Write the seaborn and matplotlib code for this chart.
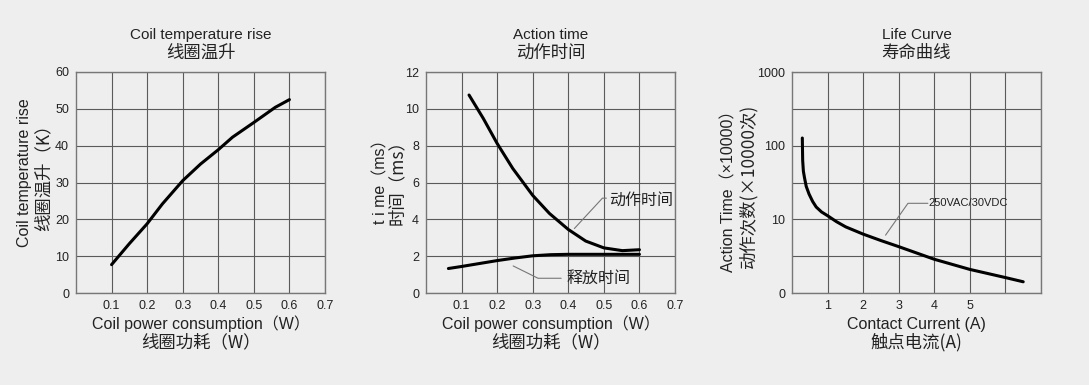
import numpy as np
import pandas as pd
import seaborn as sns
import matplotlib.pyplot as plt
from matplotlib.ticker import FixedLocator, NullFormatter

# datos
temp_x = [0.10, 0.15, 0.20, 0.243, 0.30, 0.35, 0.40, 0.44, 0.50, 0.56, 0.60]
temp_y = [7.7, 13.4, 18.8, 24.2, 30.5, 35.0, 38.9, 42.3, 46.3, 50.4, 52.5]

act_x = [0.121, 0.161, 0.20, 0.244, 0.282, 0.30, 0.347, 0.40, 0.449, 0.50, 0.552, 0.60]
act_y = [10.75, 9.48, 8.12, 6.76, 5.77, 5.3, 4.32, 3.45, 2.82, 2.45, 2.3, 2.35]
rel_x = [0.063, 0.10, 0.15, 0.20, 0.25, 0.30, 0.35, 0.40, 0.50, 0.60]
rel_y = [1.33, 1.44, 1.6, 1.76, 1.9, 2.02, 2.08, 2.1, 2.1, 2.1]

life_x = [0.29, 0.30, 0.32, 0.35, 0.40, 0.48, 0.58, 0.68, 0.83, 1.0, 1.25, 1.51, 2.0, 2.5, 3.0, 4.0, 5.0, 6.0, 6.5]
life_y = [127, 63, 45, 37, 28, 22, 17.5, 14.7, 12.6, 11.2, 9.3, 7.9, 6.3, 5.15, 4.26, 2.87, 2.09, 1.62, 1.42]

sns.set_theme(style="white")
plt.rcParams['font.family'] = ['Liberation Sans', 'Noto Sans CJK SC', 'DejaVu Sans']
bg = "#eeeeee"
txt = "#222222"
en = ['Liberation Sans', 'Noto Sans CJK SC']
cn = ['Noto Sans CJK SC']

fig = plt.figure(figsize=(10.89, 3.85), dpi=100, facecolor=bg)
W, H = 1089, 385

def make_ax(left):
    ax = fig.add_axes([left / W, 1 - 293 / H, 249 / W, 221 / H], facecolor=bg)
    for s in ax.spines.values():
        s.set_color("#777777")
        s.set_linewidth(1.0)
    ax.tick_params(colors=txt, labelsize=9, length=0, pad=5)
    ax.grid(True, color="#5a5a5a", linewidth=0.8)
    return ax

def label_block(ax, title, title_cn, xl, xl_cn, yl, yl_cn, ylx1, ylx2, yly):
    cx = ax.get_position().x0 + ax.get_position().width / 2
    fig.text(cx, 1 - 35 / H, title, ha="center", va="center", fontsize=11, color=txt, family=en)
    fig.text(cx, 1 - 53 / H, title_cn, ha="center", va="center", fontsize=12.5, color=txt, family=cn)
    fig.text(cx, 1 - 324 / H, xl, ha="center", va="center", fontsize=11.5, color=txt, family=en)
    fig.text(cx, 1 - 342 / H, xl_cn, ha="center", va="center", fontsize=12.5, color=txt, family=cn)
    cy = 1 - yly / H
    fig.text(ylx1 / W, cy, yl, ha="center", va="center", rotation=90, fontsize=11.5, color=txt, family=en)
    fig.text(ylx2 / W, cy, yl_cn, ha="center", va="center", rotation=90, fontsize=12.5, color=txt, family=cn)

xt = [0.1, 0.2, 0.3, 0.4, 0.5, 0.6, 0.7]
xt_lab = ["0.1", "0.2", "0.3", "0.4", "0.5", "0.6", "0.7"]

# panel 1
ax1 = make_ax(76)
sns.lineplot(x=temp_x, y=temp_y, ax=ax1, color="black", linewidth=2.2, sort=False)
ax1.set_xlim(0, 0.7)
ax1.set_ylim(0, 60)
ax1.set_xticks(xt)
ax1.set_xticklabels(xt_lab)
ax1.set_yticks(range(0, 61, 10))
label_block(ax1, "Coil temperature rise", "线圈温升",
            "Coil power consumption（W）", "线圈功耗（W）",
            "Coil temperature rise", "线圈温升（K）", 25, 43, 173)

# panel 2
ax2 = make_ax(426)
sns.lineplot(x=act_x, y=act_y, ax=ax2, color="black", linewidth=2.2, sort=False)
sns.lineplot(x=rel_x, y=rel_y, ax=ax2, color="black", linewidth=2.2, sort=False)
ax2.set_xlim(0, 0.7)
ax2.set_ylim(0, 12)
ax2.set_xticks(xt)
ax2.set_xticklabels(xt_lab)
ax2.set_yticks(range(0, 13, 2))
ax2.plot([0.417, 0.496, 0.507], [3.5, 5.15, 5.15], color="#777777", linewidth=0.8)
ax2.text(0.515, 5.05, "动作时间", ha="left", va="center", fontsize=11.5, color=txt, family=cn)
ax2.plot([0.245, 0.315, 0.38], [1.47, 0.8, 0.8], color="#777777", linewidth=0.8)
ax2.text(0.395, 0.8, "释放时间", ha="left", va="center", fontsize=11.5, color=txt, family=cn)
label_block(ax2, "Action time", "动作时间",
            "Coil power consumption（W）", "线圈功耗（W）",
            "t i me（ms）", "时间（ms）", 381, 397, 178)

# panel 3
ax3 = make_ax(792)
sns.lineplot(x=life_x, y=life_y, ax=ax3, color="black", linewidth=2.2, sort=False)
ax3.set_yscale("log")
ax3.set_xlim(0, 7)
ax3.set_ylim(1, 1000)
ax3.xaxis.set_major_locator(FixedLocator([1, 2, 3, 4, 5, 6, 7]))
ax3.set_xticklabels(["1", "2", "3", "4", "5", "", ""])
ax3.yaxis.set_major_locator(FixedLocator([1, 10, 100, 1000]))
ax3.set_yticklabels(["0", "10", "100", "1000"])
ax3.yaxis.set_minor_locator(FixedLocator([10 ** 0.5, 10 ** 1.5, 10 ** 2.5]))
ax3.yaxis.set_minor_formatter(NullFormatter())
ax3.tick_params(which="minor", length=0)
ax3.grid(True, which="both", color="#5a5a5a", linewidth=0.8)
ax3.plot([2.63, 3.26, 3.82], [6.1, 16.5, 16.5], color="#777777", linewidth=0.8)
ax3.text(3.84, 16.5, "250VAC/30VDC", ha="left", va="center", fontsize=8, color=txt, family=en)
label_block(ax3, "Life Curve", "寿命曲线",
            "Contact Current (A)", "触点电流(A)",
            "Action Time（×10000）", "动作次数(×10000次)", 729, 748, 187)

fig.savefig("out.png", dpi=100, facecolor=bg)
